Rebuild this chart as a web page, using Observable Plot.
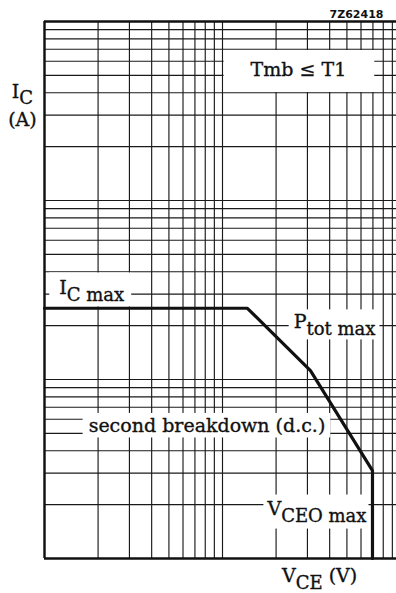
<!DOCTYPE html>
<html><head><meta charset="utf-8">
<script src="https://cdn.jsdelivr.net/npm/d3@7"></script>
<script src="https://cdn.jsdelivr.net/npm/@observablehq/plot@0.6"></script>
<style>body{margin:0;background:#fff} svg{display:block}</style>
</head><body><div id="chart"></div>
<script>
// Log grid (V_CE in V, I_C in A — relative decades, no tick labels in the original)
const xGrid = [1,2,3,4,5,6,7,8,9,10,20,30,40,50,60,70,80,90,100];
const yGrid = [0.01,0.02,0.03,0.04,0.05,0.06,0.07,0.08,0.09,
               0.1,0.2,0.3,0.4,0.5,0.6,0.7,0.8,0.9,
               1,2,3,4,5,6,7,8,9,10];

// Safe operating area boundary
const soaV = [1, 13.8, 31.2, 69.6, 69.6];
const soaI = [0.25, 0.25, 0.112, 0.031, 0.01];

// Boxed labels inside the plot (anchor = text baseline)
const labelText = ["IC max", "Ptot max", "second breakdown (d.c.)", "VCEO max", "Tmb ≤ T1"];
const labelV    = [1.21, 42.6, 8.18, 64.4, 26.7];
const labelI    = [0.2985, 0.193, 0.0506, 0.0176, 4.93];
const labelAnchor = ["start", "middle", "middle", "end", "middle"];

// Axis titles and figure code (outside the frame)
const noteText = ["IC (A)", "VCE (V)"];
const noteV    = [0.752, 35.1];
const noteI    = [3.715, 0.0074];
const codeText = ["7Z62418"];
const codeV = [80.2];
const codeI = [10.5];

// rich-text segments: s = subscript, br = new line
const rich = {
  "IC max": [{t: "I"}, {t: "C max", s: 1}],
  "Ptot max": [{t: "P"}, {t: "tot max", s: 1}],
  "VCEO max": [{t: "V"}, {t: "CEO max", s: 1}],
  "VCE (V)": [{t: "V"}, {t: "CE", s: 1}, {t: " (V)"}],
  "IC (A)": [{t: "I"}, {t: "C", s: 1, shift: 6}, {t: "(A)", br: 1}]
};
// box padding [left, top, right, bottom]
const pads = {
  "IC max": [10, 4, 7, 1],
  "Ptot max": [5, 1, 4, 0],
  "second breakdown (d.c.)": [6, 1.5, 5, 1],
  "VCEO max": [3, 2, 2, 3],
  "Tmb ≤ T1": [27, 8.5, 28, 11.5]
};

const serif = "'DejaVu Serif', serif";
const FS = 19, SUBFS = 18, SHIFT = 7, LINE2 = 28;
const ink = "#111";

const labels = labelText.map((t, i) => ({t, v: labelV[i], c: labelI[i], a: labelAnchor[i]}));
const notes = noteText.map((t, i) => ({t, v: noteV[i], c: noteI[i]}));
const codes = codeText.map((t, i) => ({t, v: codeV[i], c: codeI[i]}));
const soa = soaV.map((v, i) => ({v, c: soaI[i]}));

const textStyle = {fontFamily: serif, fontSize: FS, fill: ink, stroke: ink, strokeWidth: 0.35, lineAnchor: "bottom"};

const chart = Plot.plot({
  width: 396, height: 593,
  marginLeft: 44, marginRight: 0, marginTop: 21, marginBottom: 35,
  style: {background: "#fff"},
  x: {type: "log", domain: [1, 100], range: [44, 400], axis: null},
  y: {type: "log", domain: [0.01, 10], range: [558, 21], axis: null},
  marks: [
    Plot.ruleX(xGrid, {x: d => d, stroke: "#1a1a1a", strokeWidth: 1.15}),
    Plot.ruleY(yGrid, {y: d => d, stroke: "#1a1a1a", strokeWidth: 1.15}),
    ...["start", "middle", "end"].map(a =>
      Plot.text(labels.filter(d => d.a === a), {x: "v", y: "c", text: "t", textAnchor: a, ...textStyle})),
    Plot.text(notes, {x: "v", y: "c", text: "t", ...textStyle}),
    Plot.text(codes, {x: "v", y: "c", text: "t", textAnchor: "end", lineAnchor: "bottom",
      fontFamily: "'DejaVu Sans', sans-serif", fontSize: 11, fontWeight: "bold", fill: ink}),
    Plot.line(soa, {x: "v", y: "c", stroke: ink, strokeWidth: 3.2, strokeLinejoin: "miter"}),
    Plot.ruleX([1], {stroke: ink, strokeWidth: 2.4}),
    Plot.ruleY([0.01, 10], {stroke: ink, strokeWidth: 2.4})
  ]
});

document.getElementById("chart").append(chart);
const root = d3.select(chart);

// subscripts and line breaks
root.selectAll("text").each(function() {
  const segs = rich[this.textContent];
  if (!segs) return;
  const el = d3.select(this);
  el.text(null);
  let cur = 0; // current baseline shift
  for (const sg of segs) {
    const ts = el.append("tspan").text(sg.t);
    if (sg.br) {
      ts.attr("x", 0).attr("dy", LINE2 - cur).attr("font-size", FS);
      cur = 0;
      continue;
    }
    const want = sg.s ? (sg.shift ?? SHIFT) : 0;
    ts.attr("font-size", sg.s ? SUBFS : FS);
    if (want !== cur) { ts.attr("dy", want - cur); cur = want; }
  }
});

// white boxes behind the in-plot labels
root.selectAll("text").each(function() {
  const p = pads[this.textContent];
  if (!p) return;
  const b = this.getBBox();
  const g = this.parentNode;
  const r = document.createElementNS("http://www.w3.org/2000/svg", "rect");
  r.setAttribute("x", b.x - p[0]);
  r.setAttribute("y", b.y - p[1]);
  r.setAttribute("width", b.width + p[0] + p[2]);
  r.setAttribute("height", b.height + p[1] + p[3]);
  r.setAttribute("fill", "#fff");
  r.setAttribute("stroke", "none");
  const tr = this.getAttribute("transform");
  if (tr) r.setAttribute("transform", tr);
  g.insertBefore(r, g.firstChild);
});
</script>
</body></html>
